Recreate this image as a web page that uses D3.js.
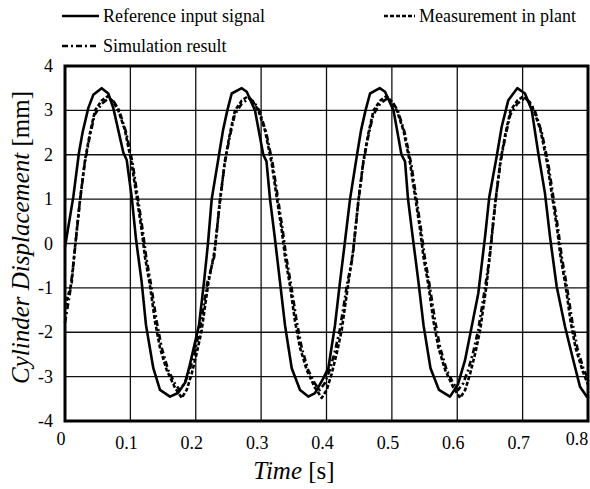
<!DOCTYPE html>
<html>
<head>
<meta charset="utf-8">
<script src="https://cdn.jsdelivr.net/npm/d3@7"></script>
<style>
  body { margin: 0; background: #fff; }
  svg { display: block; }
</style>
</head>
<body>
<div id="chart"></div>
<script>
// Reference input signal
const refTime = [0, 0.0127, 0.0214, 0.0271, 0.0356, 0.0433, 0.0561, 0.0662, 0.0739, 0.0892, 0.0944, 0.1020, 0.1086, 0.1173, 0.1239, 0.1351, 0.1453, 0.1606, 0.1728, 0.1836, 0.1897, 0.2050, 0.2126,
  0.2187, 0.2244, 0.2356, 0.2417, 0.2483, 0.2550, 0.2703, 0.2780, 0.2906, 0.3033, 0.3082, 0.3136, 0.3212, 0.3289, 0.3365, 0.3468, 0.3595, 0.3722, 0.3824, 0.3951, 0.4028, 0.4130, 0.4206,
  0.4283, 0.4360, 0.4467, 0.4528, 0.4597, 0.4666, 0.4814, 0.4895, 0.5025, 0.5147, 0.5201, 0.5247, 0.5323, 0.5407, 0.5484, 0.5591, 0.5721, 0.5889,
  0.6012, 0.6119, 0.6322, 0.6425, 0.6490, 0.6603, 0.6680, 0.6781, 0.6918, 0.7036, 0.7139, 0.7240, 0.7342, 0.7419, 0.7521, 0.7648, 0.7775, 0.7878, 0.7980, 0.8000];
const refValue = [-0.08, 1.05, 2.05, 2.52, 3.05, 3.35, 3.50, 3.38, 3.05, 2.05, 1.88, 1.05, 0.10, -0.87, -1.84, -2.81, -3.30, -3.45, -3.37, -3.14, -2.81, -1.84, -0.87,
  0.00, 1.00, 2.00, 2.55, 3.00, 3.38, 3.50, 3.42, 3.00, 2.00, 1.85, 1.00, 0.10, -0.87, -1.84, -2.81, -3.30, -3.45, -3.37, -3.04, -2.81, -1.84, -0.87,
  0.05, 1.00, 2.00, 2.55, 3.00, 3.38, 3.50, 3.42, 3.00, 2.00, 1.85, 1.00, 0.10, -0.87, -1.84, -2.81, -3.30, -3.45,
  -3.17, -2.63, -1.12, 0.15, 1.05, 1.96, 2.63, 3.23, 3.50, 3.38, 3.01, 2.03, 1.13, 0.15, -0.97, -1.87, -2.63, -3.23, -3.45, -3.47];

// Measurement in plant
const measTime = [0, 0.0102, 0.0148, 0.0229, 0.0306, 0.0382, 0.0459, 0.0561, 0.0657, 0.0734, 0.0815, 0.0917, 0.1020, 0.1096, 0.1173, 0.1223, 0.1300, 0.1376, 0.1453, 0.1555, 0.1682, 0.1785, 0.1861, 0.1938, 0.2014, 0.2091, 0.2141, 0.2192,
  0.2290, 0.2371, 0.2448, 0.2524, 0.2601, 0.2703, 0.2799, 0.2876, 0.2957, 0.3059, 0.3162, 0.3238, 0.3315, 0.3365, 0.3442, 0.3518, 0.3595, 0.3697, 0.3824, 0.3927, 0.4003, 0.4080, 0.4156, 0.4233, 0.4283, 0.4334,
  0.4408, 0.4489, 0.4566, 0.4642, 0.4719, 0.4821, 0.4917, 0.4994, 0.5075, 0.5177, 0.5280, 0.5356, 0.5433, 0.5483, 0.5560, 0.5636, 0.5713, 0.5815, 0.5942, 0.6045, 0.6121, 0.6198, 0.6274, 0.6351, 0.6401, 0.6452,
  0.6505, 0.6586, 0.6663, 0.6739, 0.6816, 0.6918, 0.7014, 0.7091, 0.7172, 0.7274, 0.7377, 0.7453, 0.7530, 0.7580, 0.7657, 0.7733, 0.7810, 0.7912, 0.8000];
const measValue = [-1.42, -0.89, -0.15, 0.98, 1.88, 2.49, 3.00, 3.22, 3.32, 3.20, 3.00, 2.55, 1.80, 1.05, 0.30, -0.30, -0.95, -1.75, -2.35, -2.85, -3.25, -3.48, -3.30, -2.93, -2.48, -1.95, -1.42, -0.90,
  -0.15, 0.98, 1.88, 2.49, 3.00, 3.22, 3.32, 3.20, 3.00, 2.55, 1.80, 1.05, 0.30, -0.30, -0.95, -1.75, -2.35, -2.85, -3.25, -3.48, -3.30, -2.93, -2.48, -1.95, -1.42, -0.90,
  -0.15, 0.98, 1.88, 2.49, 3.00, 3.22, 3.32, 3.20, 3.00, 2.55, 1.80, 1.05, 0.30, -0.30, -0.95, -1.75, -2.35, -2.85, -3.25, -3.48, -3.30, -2.93, -2.48, -1.95, -1.42, -0.90,
  -0.15, 0.98, 1.88, 2.49, 3.00, 3.22, 3.32, 3.20, 3.00, 2.55, 1.80, 1.05, 0.30, -0.30, -0.95, -1.75, -2.35, -2.85, -3.18];

// Simulation result
const simTime = [0, 0.0077, 0.0140, 0.0224, 0.0301, 0.0377, 0.0454, 0.0561, 0.0668, 0.0745, 0.0829, 0.0936, 0.1035, 0.1112, 0.1188, 0.1242, 0.1318, 0.1402, 0.1479, 0.1578, 0.1678, 0.1754, 0.1831, 0.1907, 0.1984, 0.2060, 0.2121, 0.2175,
  0.2282, 0.2366, 0.2443, 0.2519, 0.2596, 0.2703, 0.2810, 0.2887, 0.2971, 0.3078, 0.3177, 0.3254, 0.3330, 0.3384, 0.3460, 0.3544, 0.3621, 0.3720, 0.3820, 0.3896, 0.3973, 0.4049, 0.4126, 0.4202, 0.4263, 0.4317,
  0.4400, 0.4484, 0.4561, 0.4637, 0.4714, 0.4821, 0.4928, 0.5005, 0.5089, 0.5196, 0.5295, 0.5372, 0.5448, 0.5502, 0.5578, 0.5662, 0.5739, 0.5838, 0.5938, 0.6014, 0.6091, 0.6167, 0.6244, 0.6320, 0.6381, 0.6435,
  0.6497, 0.6581, 0.6658, 0.6734, 0.6811, 0.6918, 0.7025, 0.7102, 0.7186, 0.7293, 0.7392, 0.7469, 0.7545, 0.7599, 0.7675, 0.7759, 0.7836, 0.7935, 0.8000];
const simValue = [-1.79, -1.10, -0.30, 0.90, 1.80, 2.40, 2.90, 3.15, 3.27, 3.20, 3.00, 2.50, 1.80, 1.05, 0.30, -0.30, -0.95, -1.75, -2.35, -2.85, -3.15, -3.30, -3.15, -2.85, -2.45, -1.95, -1.40, -0.90,
  -0.30, 0.90, 1.80, 2.40, 2.90, 3.15, 3.27, 3.20, 3.00, 2.50, 1.80, 1.05, 0.30, -0.30, -0.95, -1.75, -2.35, -2.85, -3.15, -3.30, -3.15, -2.85, -2.45, -1.95, -1.40, -0.90,
  -0.30, 0.90, 1.80, 2.40, 2.90, 3.15, 3.27, 3.20, 3.00, 2.50, 1.80, 1.05, 0.30, -0.30, -0.95, -1.75, -2.35, -2.85, -3.15, -3.30, -3.15, -2.85, -2.45, -1.95, -1.40, -0.90,
  -0.30, 0.90, 1.80, 2.40, 2.90, 3.15, 3.27, 3.20, 3.00, 2.50, 1.80, 1.05, 0.30, -0.30, -0.95, -1.75, -2.35, -2.85, -3.03];

const xTicks = [0, 0.1, 0.2, 0.3, 0.4, 0.5, 0.6, 0.7, 0.8];
const yTicks = [-4, -3, -2, -1, 0, 1, 2, 3, 4];

const series = [
  { name: 'Reference input signal', time: refTime, value: refValue, dash: null },
  { name: 'Measurement in plant', time: measTime, value: measValue, dash: '4,2' },
  { name: 'Simulation result', time: simTime, value: simValue, dash: '6,3,2,3' }
];

const width = 590, height = 489;
const margin = { top: 66, right: 2, bottom: 68, left: 65 };
const serif = '"Liberation Serif"';

const svg = d3.select('#chart').append('svg')
  .attr('width', width)
  .attr('height', height);

const x = d3.scaleLinear().domain([0, 0.8]).range([margin.left, width - margin.right]);
const y = d3.scaleLinear().domain([-4, 4]).range([height - margin.bottom, margin.top]);

// grid lines
svg.append('g')
  .selectAll('line')
  .data(xTicks)
  .join('line')
  .attr('x1', d => x(d)).attr('x2', d => x(d))
  .attr('y1', y(-4)).attr('y2', y(4))
  .attr('stroke', '#111').attr('stroke-width', 1.3);

svg.append('g')
  .selectAll('line')
  .data(yTicks)
  .join('line')
  .attr('x1', x(0)).attr('x2', x(0.8))
  .attr('y1', d => y(d)).attr('y2', d => y(d))
  .attr('stroke', '#111').attr('stroke-width', 1.3);

// tick labels
svg.append('g')
  .selectAll('text')
  .data(yTicks)
  .join('text')
  .attr('x', x(0) - 12)
  .attr('y', d => y(d) + 6)
  .attr('text-anchor', 'end')
  .style('font-family', serif)
  .style('font-size', '18px')
  .text(d => d);

svg.append('g')
  .selectAll('text')
  .data(xTicks)
  .join('text')
  .attr('x', d => d === 0.8 ? x(d) - 11 : x(d) - 4)
  .attr('y', d => d === 0 || d === 0.8 ? 445 : 449)
  .attr('text-anchor', 'middle')
  .style('font-family', serif)
  .style('font-size', '18px')
  .text(d => d);

// lines
const line = d3.line()
  .x(d => x(d[0]))
  .y(d => y(d[1]));

series.forEach(s => {
  svg.append('path')
    .datum(d3.zip(s.time, s.value))
    .attr('fill', 'none')
    .attr('stroke', '#000')
    .attr('stroke-width', 2.6)
    .attr('stroke-linejoin', 'round')
    .attr('stroke-dasharray', s.dash)
    .attr('d', line);
});

// plot frame
svg.append('rect')
  .attr('x', x(0)).attr('y', y(4))
  .attr('width', x(0.8) - x(0)).attr('height', y(-4) - y(4))
  .attr('fill', 'none').attr('stroke', '#000').attr('stroke-width', 3);

// axis titles
const yTitle = svg.append('text')
  .attr('transform', `translate(29,${(y(4) + y(-4)) / 2 - 6}) rotate(-90)`)
  .attr('text-anchor', 'middle')
  .style('font-family', serif)
  .style('font-size', '25px');
yTitle.append('tspan').style('font-style', 'italic').text('Cylinder Displacement');
yTitle.append('tspan').text(' [mm]');

const xTitle = svg.append('text')
  .attr('x', 294)
  .attr('y', 479)
  .attr('text-anchor', 'middle')
  .style('font-family', serif)
  .style('font-size', '25px');
xTitle.append('tspan').style('font-style', 'italic').text('Time');
xTitle.append('tspan').text(' [s]');

// legend
const legendItems = [
  { s: series[0], x0: 62, x1: 99, ty: 16 },
  { s: series[1], x0: 384, x1: 415, ty: 16 },
  { s: series[2], x0: 62, x1: 99, ty: 46 }
];
const legend = svg.append('g');
legendItems.forEach(it => {
  legend.append('line')
    .attr('x1', it.x0).attr('x2', it.x1)
    .attr('y1', it.ty).attr('y2', it.ty)
    .attr('stroke', '#000').attr('stroke-width', 2.6)
    .attr('stroke-dasharray', it.s.dash);
  legend.append('text')
    .attr('x', it.x1 + 4)
    .attr('y', it.ty + 6)
    .style('font-family', serif)
    .style('font-size', '18px')
    .text(it.s.name);
});
</script>
</body>
</html>
